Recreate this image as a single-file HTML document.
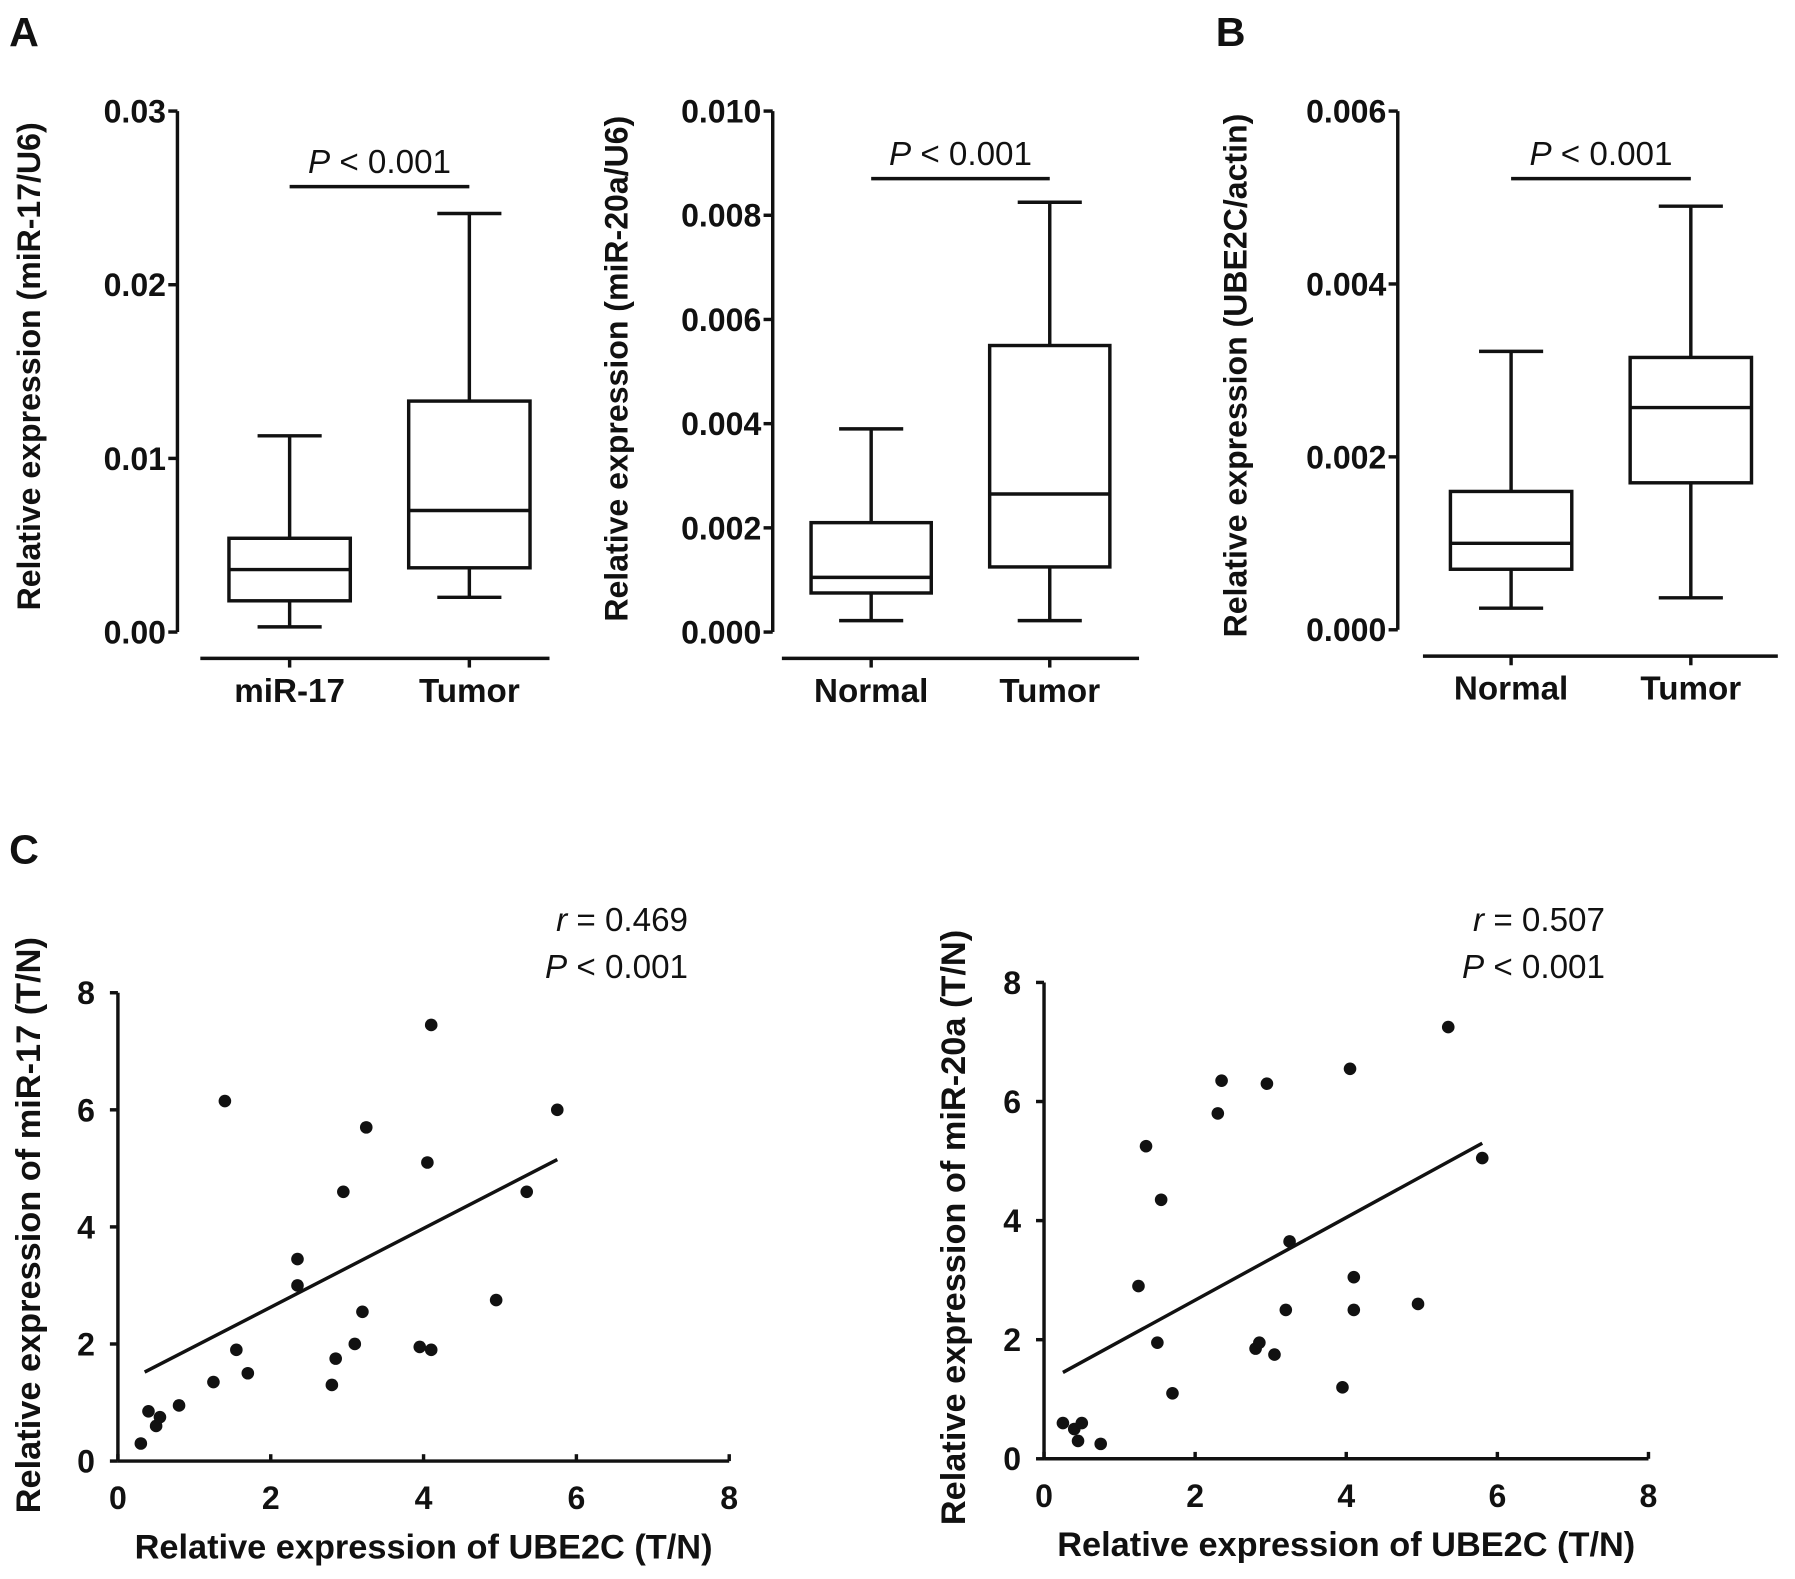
<!DOCTYPE html>
<html><head><meta charset="utf-8"><style>
html,body{margin:0;padding:0;background:#fff}
svg{display:block}
text{font-family:"Liberation Sans",Arial,sans-serif;fill:#111}
.tk{font-weight:bold;font-size:28px}
.ttl{font-size:29px}
.yt{font-size:28px;font-weight:bold}
.lt{font-weight:bold;font-size:36px}
</style></head><body>
<svg id="fig" width="1795" height="1579" viewBox="0 0 1568 1379" preserveAspectRatio="none" xmlns="http://www.w3.org/2000/svg"></svg>
<script>
// Box plot data: [whiskerLow, q1, median, q3, whiskerHigh]
const boxA1Cats = ["miR-17","Tumor"];
const boxA1Normal = [0.0003,0.0018,0.0036,0.0054,0.0113];
const boxA1Tumor = [0.0020,0.0037,0.0070,0.0133,0.0241];
const boxA1Ticks = ["0.00","0.01","0.02","0.03"];
const boxA2Cats = ["Normal","Tumor"];
const boxA2Normal = [0.00022,0.00075,0.00105,0.0021,0.0039];
const boxA2Tumor = [0.00022,0.00125,0.00265,0.0055,0.00825];
const boxA2Ticks = ["0.000","0.002","0.004","0.006","0.008","0.010"];
const boxBCats = ["Normal","Tumor"];
const boxBNormal = [0.00025,0.0007,0.0010,0.0016,0.00322];
const boxBTumor = [0.00037,0.0017,0.00257,0.00315,0.0049];
const boxBTicks = ["0.000","0.002","0.004","0.006"];
// Scatter data
const c1X = [0.3,0.4,0.5,0.55,0.8,1.25,1.4,1.55,1.7,2.35,2.35,2.8,2.85,2.95,3.1,3.2,3.25,3.95,4.05,4.1,4.1,4.95,5.35,5.75];
const c1Y = [0.3,0.85,0.6,0.75,0.95,1.35,6.15,1.9,1.5,3.0,3.45,1.3,1.75,4.6,2.0,2.55,5.7,1.95,5.1,1.9,7.45,2.75,4.6,6.0];
const c1Fit = [[0.35,1.52],[5.75,5.15]];
const c2X = [0.25,0.4,0.45,0.5,0.75,1.25,1.35,1.5,1.55,1.7,2.3,2.35,2.8,2.85,2.95,3.05,3.2,3.25,3.95,4.05,4.1,4.1,4.95,5.35,5.8];
const c2Y = [0.6,0.5,0.3,0.6,0.25,2.9,5.25,1.95,4.35,1.1,5.8,6.35,1.85,1.95,6.3,1.75,2.5,3.65,1.2,6.55,3.05,2.5,2.6,7.25,5.05];
const c2Fit = [[0.25,1.45],[5.8,5.3]];
const scTicks = ["0","2","4","6","8"];

const NS="http://www.w3.org/2000/svg";
const svg=document.getElementById('fig');
function mk(tag,attrs,parent,txt){const e=document.createElementNS(NS,tag);for(const k in attrs)e.setAttribute(k,attrs[k]);if(txt!==undefined)e.textContent=txt;(parent||svg).appendChild(e);return e;}
const S={stroke:'#111','stroke-width':3,fill:'none'};
function line(x1,y1,x2,y2,p,name){const e=mk('line',Object.assign({x1,y1,x2,y2},S),p);

return e;}

function boxPanel(o){
  const g=mk('g',{});
  
  
  const ys=v=>o.y0+(v/o.max)*(o.yTop-o.y0);
  line(o.ax,o.yTop,o.ax,o.y0,g,'y-axis');
  o.ticks.forEach((t,i)=>{const v=o.max*i/(o.ticks.length-1);const y=ys(v);
    line(o.ax-8,y,o.ax,y,g,'y-tick');
    const tx=mk('text',{x:o.ax-10,y:y+10,'text-anchor':'end',class:'tk'},g,t);
    
    });
  line(o.xl0,o.xly,o.xl1,o.xly,g,'x-axis');
  const data=[o.d1,o.d2];
  o.cx.forEach((cx,i)=>{
    line(cx,o.xly,cx,o.xly+8,g,'x-tick');
    const tx=mk('text',{x:cx,y:o.xly+38,'text-anchor':'middle',class:'tk',style:'font-size:29px'},g,o.cats[i]);
    
    
    const d=data[i],hw=o.bw/2;
    const bg=mk('g',{},g);
    
    
    mk('rect',Object.assign({x:cx-hw,y:ys(d[3]),width:o.bw,height:ys(d[1])-ys(d[3])},S),bg);
    line(cx-hw,ys(d[2]),cx+hw,ys(d[2]),bg,'median');
    line(cx,ys(d[3]),cx,ys(d[4]),bg,'whisker-upper');
    line(cx,ys(d[1]),cx,ys(d[0]),bg,'whisker-lower');
    line(cx-28,ys(d[4]),cx+28,ys(d[4]),bg,'whisker-cap');
    line(cx-28,ys(d[0]),cx+28,ys(d[0]),bg,'whisker-cap');
  });
  line(o.cx[0],o.sigY,o.cx[1],o.sigY,g,'significance-bar');
  const st=mk('text',{x:(o.cx[0]+o.cx[1])/2,y:o.sigY-12,'text-anchor':'middle',class:'ttl'},g);
  
  
  mk('tspan',{'font-style':'italic'},st,'P');mk('tspan',{},st,' < 0.001');
  const yt=mk('text',{x:o.tx,y:o.ty,'text-anchor':'middle',class:'yt',transform:`rotate(-90 ${o.tx} ${o.ty})`},g,o.title);
  
  
}
boxPanel({name:'panel-a-mir17',ax:155,yTop:97,y0:552,max:0.03,ticks:boxA1Ticks,xl0:175,xl1:480,xly:575,cx:[253,410],bw:106,cats:boxA1Cats,d1:boxA1Normal,d2:boxA1Tumor,sigY:163,tx:35,ty:320,title:'Relative expression (miR-17/U6)'});
boxPanel({name:'panel-a-mir20a',ax:675,yTop:97,y0:552,max:0.010,ticks:boxA2Ticks,xl0:683,xl1:995,xly:575,cx:[761,917],bw:105,cats:boxA2Cats,d1:boxA2Normal,d2:boxA2Tumor,sigY:156,tx:548,ty:322,title:'Relative expression (miR-20a/U6)'});
boxPanel({name:'panel-b-ube2c',ax:1221,yTop:97,y0:550,max:0.006,ticks:boxBTicks,xl0:1243,xl1:1553,xly:573,cx:[1320,1477],bw:106,cats:boxBCats,d1:boxBNormal,d2:boxBTumor,sigY:156,tx:1089,ty:328,title:'Relative expression (UBE2C/actin)'});

function scatter(o){
  const g=mk('g',{});
  
  
  const xs=v=>o.x0+v*(o.x8-o.x0)/8, ys=v=>o.y0+v*(o.y8-o.y0)/8;
  line(o.x0,o.y0,o.x8,o.y0,g,'x-axis');
  line(o.x0,o.y0,o.x0,o.y8,g,'y-axis');
  scTicks.forEach((t,i)=>{const v=+t;
    line(xs(v),o.y0,xs(v),o.y0-6,g,'x-tick');
    line(o.x0,ys(v),o.x0-7,ys(v),g,'y-tick');
    const a=mk('text',{x:xs(v),y:o.y0+42,'text-anchor':'middle',class:'tk'},g,t);
    
    
    const b=mk('text',{x:o.x0-20,y:ys(v)+10,'text-anchor':'end',class:'tk'},g,t);
    
    
  });
  o.X.forEach((x,i)=>{const c=mk('circle',{cx:xs(x),cy:ys(o.Y[i]),r:5.5,fill:'#111'},g);
    
    });
  line(xs(o.fit[0][0]),ys(o.fit[0][1]),xs(o.fit[1][0]),ys(o.fit[1][1]),g,'regression-line');
  const xt=mk('text',{x:(o.x0+o.x8)/2,y:o.y0+85,'text-anchor':'middle',class:'tk',style:'font-size:30px'},g,'Relative expression of UBE2C (T/N)');
  
  
  const yt=mk('text',{x:o.tx,y:o.ty,'text-anchor':'middle',class:'tk',style:'font-size:30px',transform:`rotate(-90 ${o.tx} ${o.ty})`},g,o.title);
  
  
  const r=mk('text',{x:o.rx,y:813,'text-anchor':'end',class:'ttl'},g);
  
  
  mk('tspan',{'font-style':'italic'},r,'r');mk('tspan',{},r,' = '+o.r);
  const p=mk('text',{x:o.rx,y:854,'text-anchor':'end',class:'ttl'},g);
  
  
  mk('tspan',{'font-style':'italic'},p,'P');mk('tspan',{},p,' < 0.001');
}
scatter({name:'panel-c-mir17',x0:103,x8:637,y0:1276,y8:867,X:c1X,Y:c1Y,fit:c1Fit,tx:35,ty:1070,title:'Relative expression of miR-17 (T/N)',rx:601,r:'0.469'});
scatter({name:'panel-c-mir20a',x0:912,x8:1440,y0:1274,y8:858,X:c2X,Y:c2Y,fit:c2Fit,tx:843,ty:1072,title:'Relative expression of miR-20a (T/N)',rx:1402,r:'0.507'});

[['A',8,40],['B',1062,40],['C',8,754]].forEach(a=>{const t=mk('text',{x:a[1],y:a[2],class:'lt'},svg,a[0]);
  
  });
</script>
</body></html>
